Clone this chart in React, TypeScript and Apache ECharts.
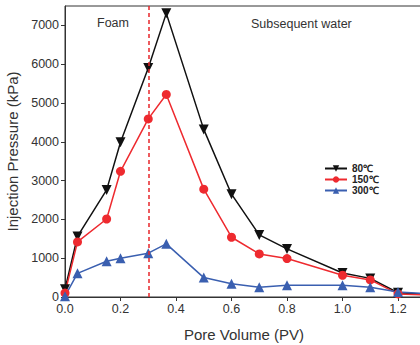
import React, { useEffect, useRef } from "react";
import * as echarts from "echarts";

const pvX = [0, 0.045, 0.15, 0.2, 0.3, 0.365, 0.5, 0.6, 0.7, 0.8, 1.0, 1.1, 1.2, 1.4];
const p80 = [200, 1560, 2760, 3990, 5900, 7310, 4320, 2650, 1600, 1240, 620, 480, 110, 20];
const p150 = [100, 1420, 2010, 3240, 4590, 5220, 2780, 1540, 1110, 990, 560, 440, 80, 20];
const p300 = [20, 610, 920, 1000, 1130, 1370, 500, 340, 250, 300, 300, 250, 130, 40];
const seriesNames = ["80℃", "150℃", "300℃"];
const yTicks = [0, 1000, 2000, 3000, 4000, 5000, 6000, 7000];
const xTicks = [0, 0.2, 0.4, 0.6, 0.8, 1.0, 1.2];
const foamBoundary = 0.3;

const FONT = "'Liberation Sans', Arial, sans-serif";

export default function App() {
  const ref = useRef<HTMLDivElement>(null);
  useEffect(() => {
    if (!ref.current) return;
    const chart = echarts.init(ref.current, undefined, { renderer: "svg" });
    const mk = (arr: number[]) => pvX.map((x, i) => [x, arr[i]]);
    chart.setOption({
      animation: false,
      textStyle: { fontFamily: FONT },
      grid: {
        left: 65,
        top: 6,
        right: -3,
        bottom: 48,
        containLabel: false,
        outerBoundsMode: "none",
        show: true,
        borderColor: "#333",
        borderWidth: 1,
      },
      legend: {
        left: 319,
        top: 158,
        orient: "vertical",
        itemWidth: 22,
        itemHeight: 8,
        itemGap: 0,
        textStyle: { fontSize: 10, lineHeight: 11, fontWeight: "bold", color: "#222", fontFamily: FONT },
        data: seriesNames,
      },
      xAxis: {
        type: "value",
        min: 0,
        max: 1.29,
        name: "Pore Volume (PV)",
        nameLocation: "middle",
        nameGap: 30,
        nameTextStyle: { fontSize: 15, color: "#333", fontFamily: FONT },
        axisLine: { show: true, lineStyle: { color: "#333" } },
        axisTick: { show: true, inside: false, length: 4, lineStyle: { color: "#333" }, customValues: xTicks },
        axisLabel: {
          fontSize: 12.5,
          color: "#333",
          margin: 5,
          formatter: (v: number) => v.toFixed(1),
          customValues: xTicks,
        },
        splitLine: { show: false },
      },
      yAxis: {
        type: "value",
        min: 0,
        max: 7500,
        name: "Injection Pressure (kPa)",
        nameLocation: "middle",
        nameGap: 37,
        nameTextStyle: { fontSize: 15, color: "#333", fontFamily: FONT },
        axisLine: { show: true, lineStyle: { color: "#333" } },
        axisTick: { show: true, inside: false, length: 4, lineStyle: { color: "#333" }, customValues: yTicks },
        axisLabel: {
          fontSize: 12.5,
          color: "#333",
          margin: 6,
          customValues: yTicks,
          formatter: (v: number) => String(Math.round(v)),
        },
        splitLine: { show: false },
      },
      series: [
        {
          name: seriesNames[0],
          type: "line",
          data: mk(p80),
          symbol: "triangle",
          symbolRotate: 180,
          symbolSize: 10,
          color: "#111",
          lineStyle: { width: 1.5, color: "#111" },
          itemStyle: { color: "#111" },
          clip: true,
          markLine: {
            silent: true,
            symbol: "none",
            label: { show: false },
            lineStyle: { color: "#e8262a", type: [4, 3], width: 1.5 },
            data: [{ xAxis: foamBoundary }],
          },
        },
        {
          name: seriesNames[1],
          type: "line",
          data: mk(p150),
          symbol: "circle",
          symbolSize: 9,
          color: "#ee2a2f",
          lineStyle: { width: 1.5, color: "#ee2a2f" },
          itemStyle: { color: "#ee2a2f" },
          clip: true,
        },
        {
          name: seriesNames[2],
          type: "line",
          data: mk(p300),
          symbol: "triangle",
          symbolSize: 10,
          color: "#3a5fb0",
          lineStyle: { width: 1.5, color: "#3a5fb0" },
          itemStyle: { color: "#3a5fb0" },
          clip: true,
        },
      ],
      graphic: [
        {
          type: "text",
          left: 97,
          top: 16,
          style: { text: "Foam", fontSize: 12.5, fill: "#333", fontFamily: FONT },
        },
        {
          type: "text",
          left: 251,
          top: 17,
          style: { text: "Subsequent water", fontSize: 12.5, fill: "#333", fontFamily: FONT },
        },
      ],
    });
    return () => chart.dispose();
  }, []);
  return (
    <div
      ref={ref}
      style={{ position: "absolute", left: 0, top: 0, width: 420, height: 345, background: "#fff" }}
    />
  );
}
